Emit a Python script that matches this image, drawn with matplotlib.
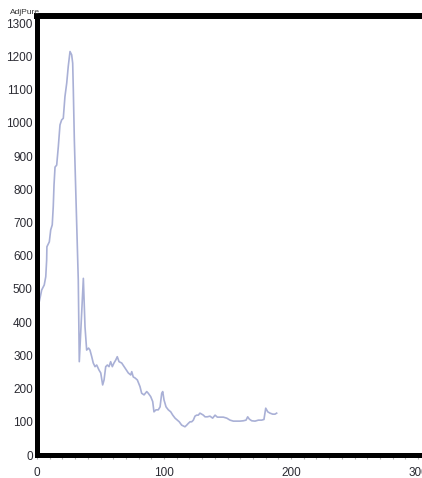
import numpy as np, matplotlib
import matplotlib.pyplot as plt
from matplotlib.ticker import MultipleLocator

matplotlib.use('Agg')
plt.rcParams['font.family'] = ['Liberation Sans', 'DejaVu Sans']

# AdjPure series, sampled along the day axis
days = [0.0, 1.8, 3.7, 5.7, 6.9, 7.6, 7.8, 9.7, 10.8, 12.0, 12.8, 13.4, 14.2, 15.5, 16.8,
        18.1, 19.4, 20.7, 22.0, 23.4, 24.6, 26.0, 27.3, 28.1, 28.6, 29.4, 30.5, 32.5, 33.3,
        36.5, 37.8, 39.1, 40.6, 41.7, 43.1, 44.3, 45.7, 47.0, 48.8, 50.2, 51.7, 52.8, 54.1,
        55.4, 56.7, 58.0, 59.3, 60.6, 62.0, 63.2, 64.6, 66.7, 69.3, 71.9, 73.8, 74.6, 75.8,
        77.2, 79.0, 81.1, 82.4, 84.3, 86.4, 87.6, 89.5, 91.1, 92.1, 93.7, 95.5, 96.9, 98.2,
        99.0, 100.0, 101.6, 103.4, 105.3, 106.9, 108.7, 110.5, 112.0, 113.9, 116.5, 117.9,
        119.1, 120.5, 121.8, 123.1, 124.4, 125.7, 127.0, 128.3, 129.7, 131.0, 132.3, 134.1,
        136.2, 138.3, 140.2, 142.0, 144.1, 146.7, 149.4, 152.0, 154.6, 157.2, 159.8, 162.4,
        164.6, 165.9, 167.2, 169.1, 171.7, 174.3, 176.9, 178.7, 180.1, 181.7, 183.5, 185.6,
        187.4, 188.7]
adj_pure = [452, 462, 497, 512, 537, 587, 627, 642, 678, 693, 748, 813, 867, 873, 929,
            994, 1009, 1014, 1079, 1120, 1170, 1215, 1205, 1180, 1099, 949, 798, 527, 281,
            532, 386, 316, 322, 316, 296, 277, 266, 271, 256, 247, 211, 226, 266,
            271, 266, 281, 266, 277, 286, 296, 281, 277, 262, 247, 241, 251, 235,
            232, 226, 206, 186, 181, 191, 186, 176, 161, 130, 136, 136, 145, 186,
            191, 166, 145, 136, 130, 120, 111, 105, 100, 90, 85, 90,
            95, 100, 100, 105, 117, 120, 120, 126, 123, 120, 115, 115,
            117, 111, 120, 114, 114, 114, 111, 105, 102, 102, 102, 103,
            105, 115, 108, 103, 102, 105, 105, 107, 141, 130, 126, 123,
            123, 126]

y_ticks = list(range(0, 1400, 100))
x_ticks = [0, 100, 200, 300]

fig = plt.figure(figsize=(4.22, 4.78), dpi=100)
ax = fig.add_axes([37 / 422, 23 / 478, 393.7 / 422, 439 / 478])
ax.plot(days, adj_pure, color='#a9b0d6', lw=1.2)

ax.set_xlim(0, 310)
ax.set_ylim(0, 1322)
ax.set_yticks(y_ticks)
ax.set_xticks(x_ticks)
ax.xaxis.set_minor_locator(MultipleLocator(10))

for side in ['left', 'bottom']:
    ax.spines[side].set_linewidth(3.6)
ax.spines['top'].set_linewidth(4.3)
ax.spines['right'].set_visible(False)
for sp in ax.spines.values():
    sp.set_color('black')

ax.tick_params(axis='y', length=0, pad=3, labelsize=8.5, labelcolor='#2b2b33')
ax.tick_params(axis='x', which='both', length=3, width=0.8, color='#b0b0b0',
               pad=6, labelsize=8.5, labelcolor='#2b2b33')

fig.text(10 / 422, 1 - 12 / 478, 'AdjPure', fontsize=6, color='#333333',
         ha='left', va='center')

fig.savefig('out.png', dpi=100)
